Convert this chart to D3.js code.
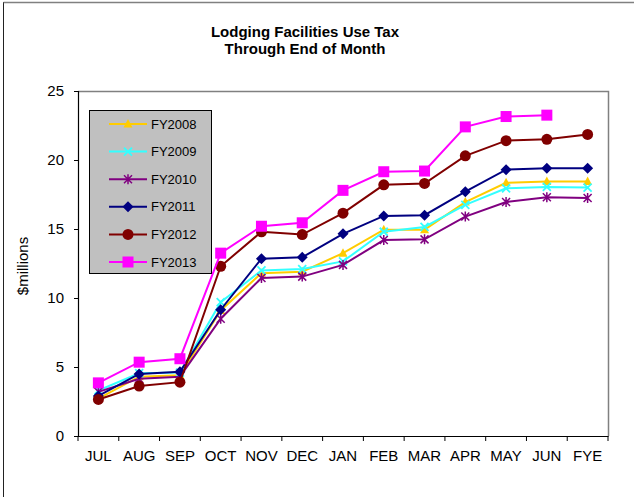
<!DOCTYPE html>
<html>
<head>
<meta charset="utf-8">
<script src="https://cdn.jsdelivr.net/npm/d3@7"></script>
<style>
  html, body { margin: 0; padding: 0; background: #fff; }
  svg { display: block; font-family: "Liberation Sans", Arial, sans-serif; }
</style>
</head>
<body>
<svg id="chart" width="634" height="497"></svg>
<script>
// Months of the fiscal year plus the fiscal-year-end column
const months = ["JUL","AUG","SEP","OCT","NOV","DEC","JAN","FEB","MAR","APR","MAY","JUN","FYE"];

// Cumulative collections, $ millions
const fy2008 = [2.7, 4.3, 4.4, 9.1, 11.8, 11.9, 13.25, 14.95, 14.95, 16.95, 18.35, 18.45, 18.45];
const fy2009 = [3.3, 4.55, 4.6, 9.7, 12.0, 12.1, 12.65, 14.8, 15.15, 16.75, 17.95, 18.05, 18.0];
const fy2010 = [3.2, 4.15, 4.3, 8.5, 11.45, 11.55, 12.4, 14.2, 14.25, 15.9, 16.95, 17.3, 17.25];
const fy2011 = [2.9, 4.5, 4.65, 9.15, 12.85, 12.95, 14.65, 15.95, 16.0, 17.7, 19.3, 19.4, 19.4];
const fy2012 = [2.65, 3.62, 3.9, 12.3, 14.8, 14.6, 16.15, 18.2, 18.3, 20.3, 21.4, 21.5, 21.85];
const fy2013 = [3.85, 5.35, 5.6, 13.25, 15.2, 15.45, 17.8, 19.15, 19.2, 22.4, 23.15, 23.25];

const yTicks = [0, 5, 10, 15, 20, 25];

const series = [
  { name: "FY2008", values: fy2008, color: "#FFCC00", marker: "triangle" },
  { name: "FY2009", values: fy2009, color: "#33FFFF", marker: "x" },
  { name: "FY2010", values: fy2010, color: "#800080", marker: "star" },
  { name: "FY2011", values: fy2011, color: "#000080", marker: "diamond" },
  { name: "FY2012", values: fy2012, color: "#800000", marker: "circle" },
  { name: "FY2013", values: fy2013, color: "#FF00FF", marker: "square" }
];

const FONT = "Liberation Sans, Arial, sans-serif";
const svg = d3.select("#chart");

// Outer chart frame
svg.append("rect")
  .attr("x", 3.5).attr("y", 2.5).attr("width", 640).attr("height", 500)
  .attr("fill", "none").attr("stroke", "#222").attr("stroke-width", 1);
svg.append("line")
  .attr("x1", 3.5).attr("x2", 634).attr("y1", 2.5).attr("y2", 2.5)
  .attr("stroke", "#808080").attr("stroke-width", 1.5);

const plot = { left: 78, right: 608, top: 91, bottom: 436 };

const x = d3.scaleBand().domain(months).range([plot.left, plot.right]).padding(0);
const y = d3.scaleLinear().domain([0, 25]).range([plot.bottom, plot.top]);

// Plot area border (top and right in grey)
svg.append("path")
  .attr("d", `M${plot.left},${plot.top + 0.5}H${plot.right + 0.5}V${plot.bottom}`)
  .attr("fill", "none").attr("stroke", "#808080").attr("stroke-width", 1.5);

// Title
const title = svg.append("text")
  .attr("text-anchor", "middle")
  .attr("font-size", 15).attr("font-weight", "bold").attr("fill", "#000");
title.append("tspan").attr("x", 305).attr("y", 36.5).text("Lodging Facilities Use Tax");
title.append("tspan").attr("x", 305).attr("y", 53.5).text("Through End of Month");

// Y axis
const yAxis = svg.append("g")
  .attr("transform", `translate(${plot.left},0)`)
  .call(d3.axisLeft(y).tickValues(yTicks).tickSize(4).tickPadding(10));
yAxis.select(".domain").attr("stroke", "#000").attr("stroke-width", 1.2);
yAxis.selectAll(".tick line").attr("stroke", "#000");
yAxis.selectAll(".tick text").attr("font-size", 15).attr("fill", "#000")
  .attr("font-family", FONT);

// X axis: ticks sit on category boundaries
const xAxis = svg.append("g")
  .attr("transform", `translate(0,${plot.bottom})`)
  .call(d3.axisBottom(x).tickSize(0).tickPadding(14));
xAxis.select(".domain").attr("stroke", "#000").attr("stroke-width", 1.2);
xAxis.selectAll(".tick text").attr("font-size", 15).attr("fill", "#000")
  .attr("font-family", FONT);
const boundaries = months.map(m => x(m)).concat([x(months[months.length - 1]) + x.bandwidth()]);
xAxis.selectAll("line.bound").data(boundaries).join("line")
  .attr("class", "bound")
  .attr("x1", d => d).attr("x2", d => d)
  .attr("y1", 0).attr("y2", 5)
  .attr("stroke", "#000");

// Y axis title
svg.append("text")
  .attr("transform", "translate(28,266) rotate(-90)")
  .attr("text-anchor", "middle")
  .attr("font-size", 15).attr("fill", "#000")
  .text("$millions");

// Marker drawing
function drawMarker(g, type, color) {
  switch (type) {
    case "triangle":
      g.append("path").attr("d", "M0,-5L4.5,3.5L-4.5,3.5Z").attr("fill", color);
      break;
    case "x":
      g.append("path").attr("d", "M-4,-4L4,4M-4,4L4,-4")
        .attr("stroke", color).attr("stroke-width", 1.8).attr("fill", "none");
      break;
    case "star":
      g.append("path").attr("d", "M-4,-4L4,4M-4,4L4,-4M0,-5L0,5")
        .attr("stroke", color).attr("stroke-width", 1.5).attr("fill", "none");
      break;
    case "diamond":
      g.append("path").attr("d", "M0,-5.5L5.5,0L0,5.5L-5.5,0Z").attr("fill", color);
      break;
    case "circle":
      g.append("circle").attr("r", 5.5).attr("fill", color);
      break;
    case "square":
      g.append("rect").attr("x", -5.5).attr("y", -5.5).attr("width", 11).attr("height", 11).attr("fill", color);
      break;
  }
}

const cx = i => x(months[i]) + x.bandwidth() / 2;
const line = d3.line().x((d, i) => cx(i)).y(d => y(d));

series.forEach(s => {
  const g = svg.append("g");
  g.append("path").datum(s.values)
    .attr("d", line)
    .attr("fill", "none").attr("stroke", s.color).attr("stroke-width", 2);
  s.values.forEach((v, i) => {
    const m = g.append("g").attr("transform", `translate(${cx(i)},${y(v)})`);
    drawMarker(m, s.marker, s.color);
  });
});

// Legend
const legend = svg.append("g");
legend.append("rect")
  .attr("x", 89.5).attr("y", 110.5).attr("width", 122).attr("height", 163)
  .attr("fill", "#C0C0C0").attr("stroke", "#000").attr("stroke-width", 1);
series.forEach((s, i) => {
  const ly = 124 + i * 27.6;
  const row = legend.append("g");
  row.append("line").attr("x1", 109).attr("x2", 147).attr("y1", ly).attr("y2", ly)
    .attr("stroke", s.color).attr("stroke-width", 2);
  const m = row.append("g").attr("transform", `translate(128,${ly})`);
  drawMarker(m, s.marker, s.color);
  row.append("text").attr("x", 151).attr("y", ly + 4.5)
    .attr("font-size", 13).attr("fill", "#000").text(s.name);
});
</script>
</body>
</html>
